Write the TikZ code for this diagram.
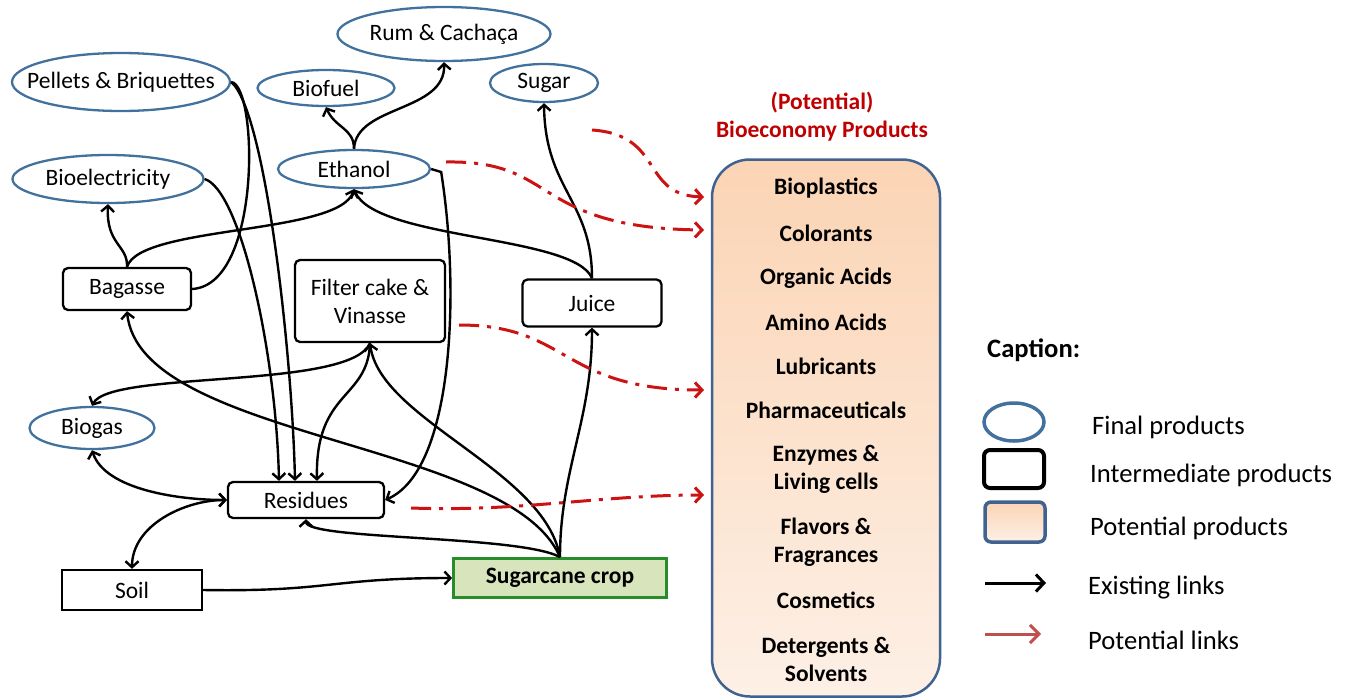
\documentclass[tikz,border=0pt]{standalone}
\usepackage{fontspec}
\setmainfont{Carlito}
\usetikzlibrary{shapes.geometric,arrows.meta}
\definecolor{ellblue}{RGB}{65,113,156}
\definecolor{boxblue}{RGB}{63,98,145}
\definecolor{potred}{RGB}{204,18,18}
\definecolor{legred}{RGB}{192,80,77}
\definecolor{cropgreen}{RGB}{40,140,40}
\definecolor{cropfill}{RGB}{216,228,188}
\definecolor{orTop}{RGB}{251,212,180}
\definecolor{orBot}{RGB}{253,240,230}
\definecolor{titred}{RGB}{192,0,0}
\newcommand\nodefnt{\fontsize{23.5}{28}\selectfont}
\newcommand\legfnt{\fontsize{26.6}{30}\selectfont}
\newcommand\zw[1]{\makebox[0pt]{#1}}
\tikzset{
  fin/.style={ellipse, draw=ellblue, line width=2.3pt, inner sep=0pt, font=\nodefnt},
  inter/.style={rectangle, draw=black, line width=2.3pt, rounded corners=5pt, inner sep=0pt, font=\nodefnt, align=center},
  item/.style={font=\nodefnt\bfseries, align=center, inner sep=0pt},
  legtext/.style={font=\legfnt, anchor=west, inner sep=0pt},
  arr/.style={line width=2.4pt, -{Straight Barb[length=6pt,width=13pt]}},
  arrb/.style={line width=2.4pt, {Straight Barb[length=6pt,width=13pt]}-{Straight Barb[length=6pt,width=13pt]}},
  ln/.style={line width=2.4pt},
  pot/.style={line width=3pt, draw=potred, dash pattern=on 20pt off 8pt on 4pt off 8pt, -{Straight Barb[length=7pt,width=15pt]}}
}
\begin{document}
\begin{tikzpicture}[x=1pt,y=-1pt]
\useasboundingbox (0,0) rectangle (1351,699);

% final products
\node[fin, minimum width=213, minimum height=54] (rum) at (444,34) {\zw{Rum \& Cachaça}};
\node[fin, minimum width=218, minimum height=58] (pel) at (121,82) {\zw{Pellets \& Briquettes}};
\node[fin, minimum width=137, minimum height=36] (bf) at (326,88) {\zw{Biofuel}};
\node[fin, minimum width=108, minimum height=38] (sug) at (544,83) {\zw{Sugar}};
\node[fin, minimum width=191, minimum height=48] (bel) at (108,179) {\zw{Bioelectricity}};
\node[fin, minimum width=152, minimum height=38] (eth) at (354,169) {\zw{Ethanol}};
\node[fin, minimum width=125, minimum height=42] (bgs) at (92,428) {\zw{Biogas}};

% intermediate products
\node[inter, minimum width=128, minimum height=42] (bag) at (127,289) {Bagasse};
\node[inter, minimum width=150, minimum height=82] (fil) at (370,301) {Filter cake \&\\Vinasse};
\node[inter, minimum width=139, minimum height=47] (jui) at (592,303) {Juice};
\node[inter, minimum width=156, minimum height=36] (res) at (306,500) {Residues};
\node[inter, rounded corners=0pt, minimum width=140, minimum height=40] (soil) at (132,590) {Soil};
\node[inter, rounded corners=0pt, draw=cropgreen, fill=cropfill, line width=2.8pt, minimum width=213, minimum height=39, font=\nodefnt\bfseries] (sc) at (560,578) {Sugarcane crop};

% bioeconomy box
\node[font=\nodefnt\bfseries, text=titred, align=center, inner sep=0pt] (tit) at (822,117) {(Potential)\\Bioeconomy Products};
\node[draw=boxblue, line width=2.5pt, rounded corners=38pt, top color=orTop, bottom color=orBot, minimum width=228, minimum height=537] (bio) at (826,428) {};
\node[item] (i1) at (826,188) {Bioplastics};
\node[item] (i2) at (826,233) {Colorants};
\node[item] (i3) at (826,278) {Organic Acids};
\node[item] (i4) at (826,322) {Amino Acids};
\node[item] (i5) at (826,366) {Lubricants};
\node[item] (i6) at (826,410) {Pharmaceuticals};
\node[item] (i7) at (826,469) {Enzymes \&\\Living cells};
\node[item] (i8) at (826,542) {Flavors \&\\Fragrances};
\node[item] (i9) at (826,600) {Cosmetics};
\node[item] (i10) at (826,659) {Detergents \&\\Solvents};

% existing links
\draw[arr] (eth.north) .. controls (354,128) and (335,128) .. (bf.south);
\draw[arr] (eth.north) .. controls (356,105) and (446,112) .. (rum.south);
\draw[arr] (bag.north) .. controls (128,245) and (106,245) .. (bel.south);
\draw[arr] (bag.north) .. controls (140,225) and (340,235) .. (eth.south);
\draw[arr] (jui.north) .. controls (575,235) and (375,240) .. (eth.south);
\draw[arr] (jui.north) .. controls (592,200) and (545,190) .. (sug.south);
\draw[ln] (bag.east) .. controls (262,285) and (258,85) .. (pel.east);
\draw[arr] (pel.east) .. controls (265,110) and (292,350) .. ([xshift=-11pt]res.north);
\draw[arr] (bel.east) .. controls (240,190) and (276,350) .. ([xshift=-27pt]res.north);
\draw[arr] (eth.east) -- ++(10,3) .. controls (460,290) and (454,470) .. (res.east);
\draw[arr] (sc.north) .. controls (545,470) and (380,420) .. (fil.south);
\draw[arr] (fil.south) .. controls (350,390) and (110,370) .. (bgs.north);
\draw[arr] (fil.south) .. controls (368,400) and (315,390) .. ([xshift=11pt]res.north);
\draw[arr] (sc.north) .. controls (510,440) and (140,440) .. (bag.south);
\draw[arr] (sc.north) .. controls (560,470) and (592,420) .. (jui.south);
\draw[arr] (sc.north) .. controls (520,535) and (306,540) .. (res.south);
\draw[arr] (soil.east) .. controls (330,592) and (330,578) .. (sc.west);
\draw[arrb] (soil.north) .. controls (132,525) and (185,500) .. (res.west);
\draw[arrb] (bgs.south) .. controls (105,490) and (180,500) .. (res.west);

% potential links
\coordinate (r1) at (592,130);
\coordinate (p1) at (704,197);
\coordinate (p2) at (704,230);
\coordinate (p3) at (704,390);
\coordinate (p4) at (704,495);
\draw[pot] (r1) .. controls (665,135) and (640,195) .. (p1);
\draw[pot] ([shift={(15,-7)}]eth.east) .. controls (560,160) and (530,228) .. (p2);
\draw[pot] ([shift={(13,24)}]fil.east) .. controls (570,325) and (560,390) .. (p3);
\draw[pot] ([shift={(26,8)}]res.east) .. controls (520,512) and (600,495) .. (p4);

% legend
\node[font=\legfnt\bfseries, anchor=west, inner sep=0pt] (cap) at (987,350) {Caption:};
\node[ellipse, draw=ellblue, line width=3.5pt, minimum width=60, minimum height=38] (lg1) at (1014,422) {};
\node[draw=black, line width=4pt, rounded corners=6pt, minimum width=60, minimum height=38] (lg2) at (1014,469) {};
\node[draw=boxblue, line width=3.5pt, rounded corners=6pt, top color=orTop, bottom color=orBot, minimum width=60, minimum height=40] (lg3) at (1015,522) {};
\coordinate (la1) at (985,583);
\coordinate (la2) at (1046,583);
\coordinate (lb1) at (985,634);
\coordinate (lb2) at (1041,634);
\draw[line width=3pt, -{Straight Barb[length=8pt,width=17pt]}] (la1) -- (la2);
\draw[line width=3pt, draw=legred, -{Straight Barb[length=9pt,width=18pt]}] (lb1) -- (lb2);
\node[legtext] (t1) at (1092,427) {Final products};
\node[legtext] (t2) at (1090,475) {Intermediate products};
\node[legtext] (t3) at (1090,528) {Potential products};
\node[legtext] (t4) at (1088,588) {Existing links};
\node[legtext] (t5) at (1088,640) {Potential links};
\end{tikzpicture}
\end{document}
